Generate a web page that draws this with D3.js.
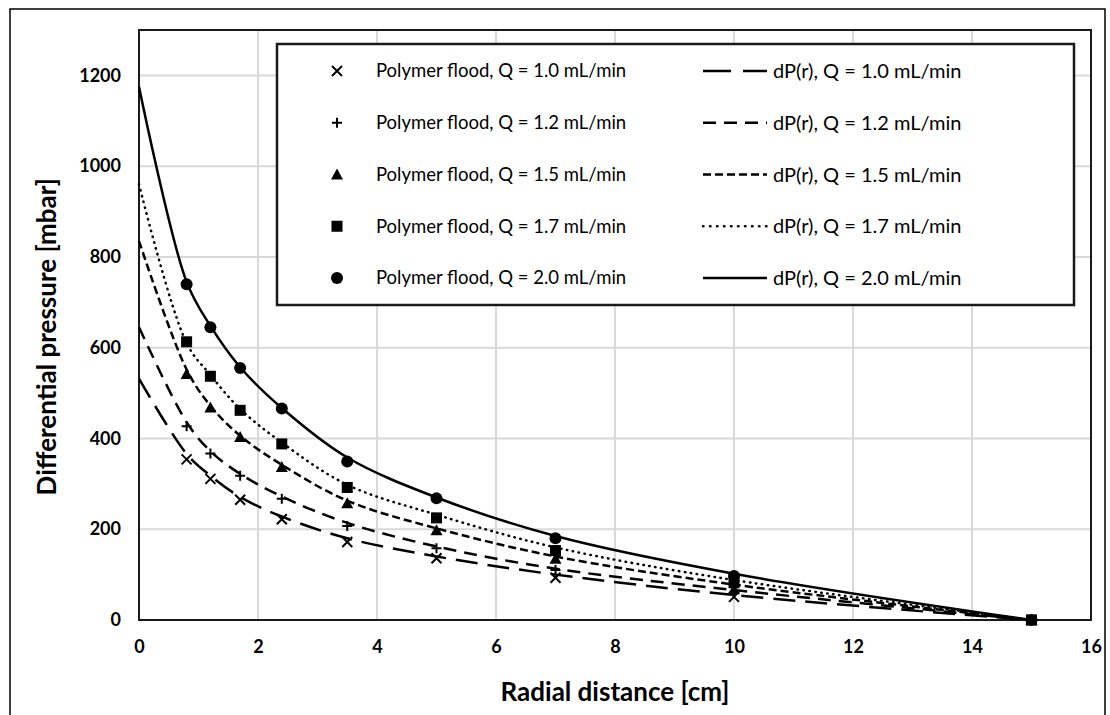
<!DOCTYPE html>
<html>
<head>
<meta charset="utf-8">
<script src="https://cdn.jsdelivr.net/npm/d3@7"></script>
<style>
  body { margin: 0; background: #fff; }
  text { font-family: Lato, "Liberation Sans", sans-serif; fill: #000; }
</style>
</head>
<body>
<div id="chart"></div>
<script>
// Chart data

var flowRates = ["1.0", "1.2", "1.5", "1.7", "2.0"];

// measured points (radial distance [cm])
var measuredR = [0.8, 1.2, 1.7, 2.4, 3.5, 5, 7, 10, 15];
var measured_10 = [354, 311, 265, 222, 172, 136, 93, 51, 0];
var measured_12 = [427, 367, 318, 267, 207, 158, 110, 60, 0];
var measured_15 = [542, 468, 403, 337, 257, 198, 135, 68, 0];
var measured_17 = [613, 537, 462, 388, 292, 225, 153, 82, 0];
var measured_20 = [740, 645, 555, 466, 349, 268, 180, 97, 0];

// dP(r) curves (smoothed line through these points)
var curveR = [0, 0.8, 1.2, 1.7, 2.4, 3.5, 5, 7, 10, 15];
var dP_10 = [532, 366, 318, 271, 228, 180, 140, 100, 55, 0];
var dP_12 = [645, 436, 372, 322, 272, 214, 162, 113, 66, 0];
var dP_15 = [835, 552, 472, 406, 342, 263, 202, 140, 78, 0];
var dP_17 = [960, 610, 540, 465, 391, 298, 232, 160, 88, 0];
var dP_20 = [1175, 745, 648, 557, 467, 358, 270, 185, 102, 0];

var xTicks = [0, 2, 4, 6, 8, 10, 12, 14, 16];
var yTicks = [0, 200, 400, 600, 800, 1000, 1200];

var measuredSeries = [measured_10, measured_12, measured_15, measured_17, measured_20];
var curveSeries = [dP_10, dP_12, dP_15, dP_17, dP_20];
var markerTypes = ["x", "plus", "triangle", "square", "circle"];
var dashStyles = ["22,10", "13,8", "8,4", "0.5,5.5", null];

// Define Space
var width = 1110, height = 715;
var margin = {top: 30, right: 18, bottom: 95, left: 139};

var svg = d3.select("#chart").append("svg")
    .attr("width", width)
    .attr("height", height);

// outer frame
svg.append("rect")
    .attr("x", 10).attr("y", 9)
    .attr("width", 1095).attr("height", 720)
    .attr("fill", "none").attr("stroke", "#000").attr("stroke-width", 1.5);

var x = d3.scaleLinear().domain([0, 16]).range([margin.left, width - margin.right - 1]);
var y = d3.scaleLinear().domain([0, 1300]).range([620, margin.top]);

// gridlines
svg.append("g")
    .selectAll("line.vg").data(xTicks.slice(1, -1)).enter().append("line")
    .attr("x1", d => x(d)).attr("x2", d => x(d))
    .attr("y1", y(0)).attr("y2", y(1300))
    .style("stroke", "#d9d9d9").style("stroke-width", 2);
svg.append("g")
    .selectAll("line.hg").data(yTicks.slice(1)).enter().append("line")
    .attr("x1", x(0)).attr("x2", x(16))
    .attr("y1", d => y(d)).attr("y2", d => y(d))
    .style("stroke", "#d9d9d9").style("stroke-width", 2);

// plot border
svg.append("rect")
    .attr("x", x(0)).attr("y", y(1300))
    .attr("width", x(16) - x(0)).attr("height", y(0) - y(1300))
    .attr("fill", "none").attr("stroke", "#1a1a1a").attr("stroke-width", 2);

// axes
var xAxis = svg.append("g")
    .attr("transform", "translate(0," + y(0) + ")")
    .call(d3.axisBottom(x).tickValues(xTicks).tickSize(0).tickPadding(20));
var yAxis = svg.append("g")
    .attr("transform", "translate(" + x(0) + ",0)")
    .call(d3.axisLeft(y).tickValues(yTicks).tickFormat(d3.format("d")).tickSize(0).tickPadding(18));
[xAxis, yAxis].forEach(function (a) {
    a.select(".domain").remove();
    a.selectAll("text")
        .style("font-family", "Lato, 'Liberation Sans', sans-serif")
        .style("font-size", "18px").style("font-weight", "bold");
});

// axis titles
svg.append("text")
    .attr("x", (x(0) + x(16)) / 2).attr("y", 701)
    .attr("text-anchor", "middle")
    .style("font-size", "26px").style("font-weight", "bold")
    .text("Radial distance [cm]");
svg.append("text")
    .attr("transform", "translate(56," + y(624) + ") rotate(-90)")
    .attr("text-anchor", "middle")
    .style("font-size", "26px").style("font-weight", "bold")
    .text("Differential pressure [mbar]");

// curves
var line = d3.line()
    .x(function (d) { return x(d[0]); })
    .y(function (d) { return y(d[1]); })
    .curve(d3.curveCatmullRom.alpha(0.5));

curveSeries.forEach(function (vals, i) {
    var pts = curveR.map(function (r, j) { return [r, vals[j]]; });
    svg.append("path")
        .datum(pts)
        .attr("d", line)
        .attr("fill", "none")
        .attr("stroke", "#000")
        .attr("stroke-width", 2.5)
        .attr("stroke-linecap", i == 3 ? "round" : "butt")
        .attr("stroke-dasharray", dashStyles[i]);
});

// marker drawing
function drawMarker(g, type, cx, cy) {
    if (type == "x") {
        g.append("path").attr("d", "M-5,-5L5,5M-5,5L5,-5")
            .attr("transform", "translate(" + cx + "," + cy + ")")
            .attr("stroke", "#000").attr("stroke-width", 2).attr("fill", "none");
    } else if (type == "plus") {
        g.append("path").attr("d", "M-5,0L5,0M0,-5L0,5")
            .attr("transform", "translate(" + cx + "," + cy + ")")
            .attr("stroke", "#000").attr("stroke-width", 2).attr("fill", "none");
    } else if (type == "triangle") {
        g.append("path").attr("d", "M0,-6L6,5L-6,5Z")
            .attr("transform", "translate(" + cx + "," + cy + ")")
            .attr("fill", "#000");
    } else if (type == "square") {
        g.append("rect").attr("x", cx - 5.5).attr("y", cy - 5.5)
            .attr("width", 11).attr("height", 11).attr("fill", "#000");
    } else {
        g.append("circle").attr("cx", cx).attr("cy", cy).attr("r", 6).attr("fill", "#000");
    }
}

measuredSeries.forEach(function (vals, i) {
    var g = svg.append("g");
    measuredR.forEach(function (r, j) {
        drawMarker(g, markerTypes[i], x(r), y(vals[j]));
    });
});

// legend
var legend = svg.append("g");
legend.append("rect")
    .attr("x", 277).attr("y", 44).attr("width", 797).attr("height", 261)
    .attr("fill", "#fff").attr("stroke", "#1a1a1a").attr("stroke-width", 2.5);

var rowY = d3.scalePoint().domain(flowRates).range([71, 278]);

flowRates.forEach(function (q, i) {
    var yy = rowY(q);
    drawMarker(legend, markerTypes[i], 337, yy);
    legend.append("text")
        .attr("x", 376).attr("y", yy).attr("dy", "0.35em")
        .style("font-size", "18.5px")
        .text("Polymer flood, Q = " + q + " mL/min");
    legend.append("line")
        .attr("x1", 703).attr("x2", 767).attr("y1", yy).attr("y2", yy)
        .attr("stroke", "#000").attr("stroke-width", 2.5)
        .attr("stroke-linecap", i == 3 ? "round" : "butt")
        .attr("stroke-dasharray", i == 0 ? "28,12" : (i == 3 ? "0.5,6.5" : dashStyles[i]));
    legend.append("text")
        .attr("x", 773).attr("y", yy).attr("dy", "0.35em")
        .style("font-size", "20px")
        .text("dP(r), Q = " + q + " mL/min");
});
</script>
</body>
</html>
